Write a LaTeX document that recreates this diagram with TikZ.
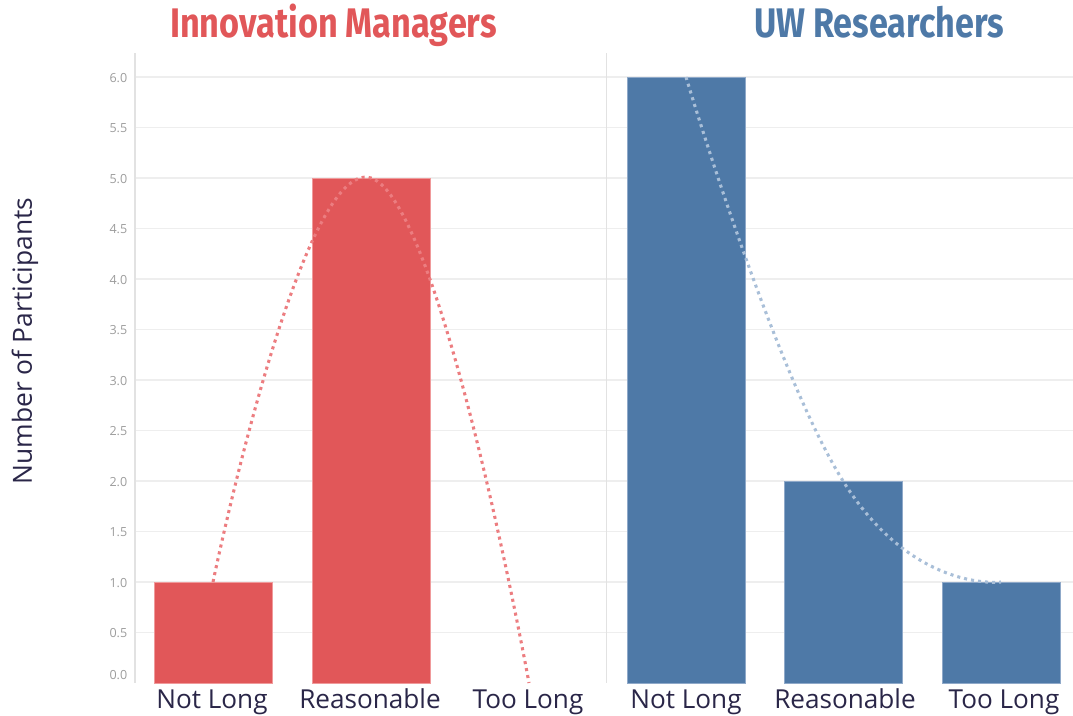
\documentclass[tikz,border=0pt]{standalone}
\usepackage{fontspec}
\usepackage{graphicx}
\setmainfont{Open Sans}
\newfontfamily\headfont{Fira Sans}
\usetikzlibrary{positioning}
\definecolor{mgrred}{HTML}{E15759}
\definecolor{mgrredline}{HTML}{F09A9B}
\definecolor{mgrreddot}{HTML}{EC7D80}
\definecolor{uwblue}{HTML}{4E79A7}
\definecolor{uwblueline}{HTML}{8FA9C9}
\definecolor{uwbluedot}{HTML}{A9BFD8}
\definecolor{navy}{HTML}{2A2648}
\definecolor{tickgray}{HTML}{9C9C9C}
\definecolor{gridgray}{HTML}{EEEEEE}
\definecolor{axisgray}{HTML}{E2E2E2}
\tikzset{
  gridline/.style={gridgray, line width=0.9pt},
  axisline/.style={axisgray, line width=1.4pt},
  ticklabel/.style={tickgray, anchor=east, inner sep=0pt, font=\fontsize{9.4}{11}\selectfont},
  catlabel/.style={navy, anchor=base, inner sep=0pt, font=\fontsize{19.6}{23}\selectfont},
  headlabel/.style={anchor=base, inner sep=0pt, font=\headfont\bfseries\fontsize{31}{34}\selectfont},
  trend/.style={line width=2.3pt, dash pattern=on 2.3pt off 3pt, line cap=butt}
}

\begin{document}
\begin{tikzpicture}[x=0.75pt, y=-0.75pt]
\useasboundingbox (0,0) rectangle (1073,715);
% grid and axes
\foreach \t [count=\i from 0] in {0.0,0.5,1.0,1.5,2.0,2.5,3.0,3.5,4.0,4.5,5.0,5.5,6.0} {
  \ifnum\i>0
    \draw[gridline] (135,683-\i*50.5) -- (1073,683-\i*50.5);
  \fi
}
\draw[axisline] (135,53) -- (135,683);
\draw[axisline] (606.5,53) -- (606.5,683);
\foreach \t [count=\i from 0] in {0.5,1.0,1.5,2.0,2.5,3.0,3.5,4.0,4.5,5.0,5.5,6.0}
  \node[ticklabel] (tick\i) at (127.5,684-\i*50.5-50.5) {\t};
\node[ticklabel] (tickzero) at (127.5,675) {0.0};

% bars
\foreach \x/\h in {213/1, 371/5}
  \filldraw[fill=mgrred, draw=mgrredline, line width=0.7pt] (\x-59,683) rectangle (\x+59,683-\h*101);
\foreach \x/\h in {686/6, 843/2, 1001/1}
  \filldraw[fill=uwblue, draw=uwblueline, line width=0.7pt] (\x-59,683) rectangle (\x+59,683-\h*101);

% trend lines
\draw[trend, mgrreddot] plot[smooth, tension=0.8] coordinates {(213,582) (371,178) (529,683)};
\draw[trend, uwbluedot] plot[smooth, tension=0.8] coordinates {(686,77) (843,481) (1001,582)};

% labels
\node[catlabel] (mgrnot) at (212,708) {Not Long};
\node[catlabel] (mgrok) at (370,708) {Reasonable};
\node[catlabel] (mgrtoo) at (528,708) {Too Long};
\node[catlabel] (uwnot) at (686,708) {Not Long};
\node[catlabel] (uwok) at (845,708) {Reasonable};
\node[catlabel] (uwtoo) at (1004,708) {Too Long};
\node[navy, rotate=90, inner sep=0pt, font=\fontsize{19.8}{23}\selectfont] (ytitle) at (25,341) {Number of Participants};
\node[headlabel, mgrred] (mgrhead) at (333.5,37) {\resizebox{245pt}{\height}{Innovation Managers}};
\node[headlabel, uwblue] (uwhead) at (879,37) {\resizebox{187.5pt}{\height}{UW Researchers}};
\end{tikzpicture}
\end{document}
